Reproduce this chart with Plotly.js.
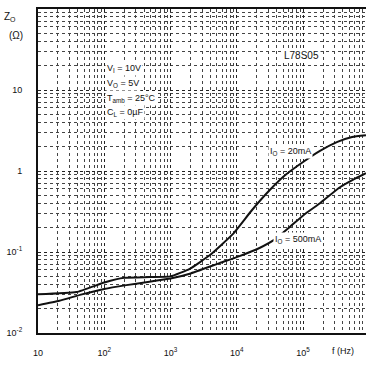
<!DOCTYPE html>
<html>
<head>
<meta charset="utf-8">
<script src="https://cdn.plot.ly/plotly-3.0.1.min.js"></script>
<style>html,body{margin:0;padding:0;background:#fff}#chart{width:366px;height:365px}</style>
</head>
<body>
<div id="chart"></div>
<script>
// Frequency (Hz) and output impedance Zo (ohm)
const freq20 = [10, 38, 100, 200, 480, 1000, 1950, 3900, 8700, 17000, 32000, 54000, 100000, 180000, 330000, 550000, 890000];
const zo20   = [0.030, 0.032, 0.042, 0.048, 0.049, 0.050, 0.062, 0.091, 0.166, 0.33, 0.59, 0.89, 1.29, 1.77, 2.29, 2.63, 2.76];
const freq500 = [10, 21, 46, 100, 216, 480, 1000, 1950, 5500, 11000, 22000, 38000, 63000, 107000, 180000, 360000, 620000, 890000];
const zo500   = [0.022, 0.025, 0.030, 0.035, 0.039, 0.043, 0.047, 0.054, 0.073, 0.089, 0.112, 0.144, 0.204, 0.295, 0.40, 0.63, 0.81, 0.94];
const xTickVals = [10, 100, 1000, 10000, 100000];
const xTickText = ["10", "10<sup>2</sup>", "10<sup>3</sup>", "10<sup>4</sup>", "10<sup>5</sup>"];
const yTickVals = [0.01, 0.1, 1, 10];
const yTickText = ["10<sup>-2</sup>", "10<sup>-1</sup>", "1", "10"];

const lineStyle = {color: '#111', width: 2, shape: 'spline', smoothing: 0.4};
const traces = [
  {x: freq20, y: zo20, mode: 'lines', line: lineStyle, name: 'IO = 20mA', hoverinfo: 'skip'},
  {x: freq500, y: zo500, mode: 'lines', line: lineStyle, name: 'IO = 500mA', hoverinfo: 'skip'}
];
const font = {family: 'Liberation Sans, Arial, sans-serif', size: 9, color: '#111'};
const gridCommon = {
  showgrid: true, gridcolor: '#222', gridwidth: 1, griddash: 'dot'
};
const layout = {
  width: 366, height: 365,
  margin: {l: 38, r: 0, t: 9, b: 32},
  paper_bgcolor: '#fff', plot_bgcolor: '#fff',
  showlegend: false,
  font: font,
  xaxis: Object.assign({
    type: 'log', range: [1, 5.95],
    tickvals: xTickVals, ticktext: xTickText, ticks: '',
    showline: true, linecolor: '#111', linewidth: 2, mirror: true,
    ticklabelstandoff: 10, zeroline: false,
    minor: {showgrid: true, gridcolor: '#444', griddash: 'dot', gridwidth: 1, dtick: 'D1'}
  }, gridCommon),
  yaxis: Object.assign({
    type: 'log', range: [-2, 2],
    tickvals: yTickVals, ticktext: yTickText, ticks: '',
    showline: true, linecolor: '#111', linewidth: 2, mirror: false,
    ticklabelstandoff: 12, zeroline: false,
    minor: {showgrid: true, gridcolor: '#444', griddash: 'dot', gridwidth: 1, dtick: 'D1'}
  }, gridCommon),
  annotations: [
    {xref: 'paper', yref: 'paper', x: -0.06, y: 1.0, text: 'Z<sub>O</sub>', showarrow: false, xanchor: 'right', yanchor: 'top', font: {size: 10}},
    {xref: 'paper', yref: 'paper', x: -0.04, y: 0.94, text: '(Ω)', showarrow: false, xanchor: 'right', yanchor: 'top', font: {size: 10}},
    {xref: 'paper', yref: 'paper', x: 0.89, y: -0.035, text: 'f (Hz)', showarrow: false, xanchor: 'left', yanchor: 'top', font: {size: 9}},
    {xref: 'paper', yref: 'paper', x: 0.205, y: 0.815, text: 'V<sub>I</sub> = 10V', showarrow: false, xanchor: 'left', yanchor: 'middle', bgcolor: '#fff'},
    {xref: 'paper', yref: 'paper', x: 0.205, y: 0.77, text: 'V<sub>O</sub> = 5V', showarrow: false, xanchor: 'left', yanchor: 'middle', bgcolor: '#fff'},
    {xref: 'paper', yref: 'paper', x: 0.205, y: 0.725, text: 'T<sub>amb</sub> = 25°C', showarrow: false, xanchor: 'left', yanchor: 'middle', bgcolor: '#fff'},
    {xref: 'paper', yref: 'paper', x: 0.205, y: 0.68, text: 'C<sub>L</sub> = 0µF', showarrow: false, xanchor: 'left', yanchor: 'middle', bgcolor: '#fff'},
    {xref: 'paper', yref: 'paper', x: 0.745, y: 0.855, text: 'L78S05', showarrow: false, xanchor: 'left', yanchor: 'middle', bgcolor: '#fff', font: {size: 10}},
    {xref: 'paper', yref: 'paper', x: 0.70, y: 0.56, text: 'I<sub>O</sub> = 20mA', showarrow: false, xanchor: 'left', yanchor: 'middle', bgcolor: '#fff'},
    {xref: 'paper', yref: 'paper', x: 0.715, y: 0.29, text: 'I<sub>O</sub> = 500mA', showarrow: false, xanchor: 'left', yanchor: 'middle', bgcolor: '#fff'}
  ]
};
Plotly.newPlot('chart', traces, layout, {staticPlot: true, displayModeBar: false});
</script>
</body>
</html>
